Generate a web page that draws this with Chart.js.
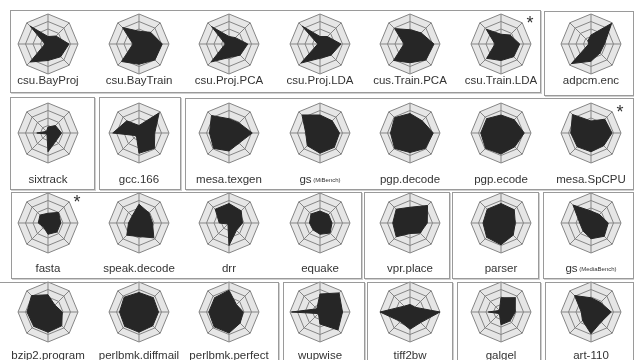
<!DOCTYPE html>
<html>
<head>
<meta charset="utf-8">
<script src="https://cdn.jsdelivr.net/npm/chart.js@4/dist/chart.umd.min.js"></script>
<style>
  html, body { margin: 0; padding: 0; background: #fff; }
  body { position: relative; width: 634px; height: 360px; overflow: hidden;
         font-family: "Liberation Sans", Arial, Helvetica, sans-serif; }
  .box { position: absolute; box-sizing: border-box; border: 1px solid #9a9a9a;
         box-shadow: 1px 1px 0 #d0d0d0; }
  .cell { position: absolute; }
  .lbl { position: absolute; width: 100px; text-align: center; font-size: 11.5px;
         line-height: 14px; color: #333; white-space: nowrap; }
  .lbl .sub { font-size: 6px; vertical-align: 1px; }
  .star { position: absolute; width: 14px; text-align: center; font-size: 18px;
          line-height: 18px; color: #333; }
</style>
</head>
<body>
<script>
// Eight metrics per benchmark, clockwise from the top spoke.
const axes = ['m1', 'm2', 'm3', 'm4', 'm5', 'm6', 'm7', 'm8'];

// Benchmark names, row by row (7 per row).
const benchmarks = [
  'csu.BayProj', 'csu.BayTrain', 'csu.Proj.PCA', 'csu.Proj.LDA', 'cus.Train.PCA', 'csu.Train.LDA', 'adpcm.enc',
  'sixtrack', 'gcc.166', 'mesa.texgen', 'gs|(MiBench)', 'pgp.decode', 'pgp.ecode', 'mesa.SpCPU',
  'fasta', 'speak.decode', 'drr', 'equake', 'vpr.place', 'parser', 'gs|(MediaBench)',
  'bzip2.program', 'perlbmk.diffmail', 'perlbmk.perfect', 'wupwise', 'tiff2bw', 'galgel', 'art-110'
];

// Benchmarks marked with an asterisk.
const starred = ['csu.Train.LDA', 'mesa.SpCPU', 'fasta'];

// Metric values (scale 0-4).
const csuBayProj      = [1.0, 1.5, 2.8, 2.4, 2.2, 3.4, 0.4, 3.4];
const csuBayTrain     = [1.7, 2.2, 3.1, 3.0, 2.7, 3.3, 0.8, 3.1];
const csuProjPCA      = [1.0, 1.2, 2.5, 2.1, 1.8, 3.4, 0.5, 3.3];
const csuProjLDA      = [1.0, 1.4, 2.8, 2.1, 1.9, 3.6, 0.3, 3.4];
const cusTrainPCA     = [1.9, 2.1, 3.2, 3.0, 2.5, 3.1, 0.8, 2.9];
const csuTrainLDA     = [1.3, 1.7, 2.5, 2.4, 2.2, 2.7, 0.8, 2.8];
const adpcmEnc        = [1.2, 3.9, 1.8, 1.7, 2.3, 3.7, 0.3, 0.6];
const sixtrack        = [0.8, 1.4, 1.8, 1.5, 2.5, 0.2, 1.5, 0.3];
const gcc166          = [1.0, 3.8, 2.1, 2.9, 2.7, 0.5, 3.5, 2.3];
const mesaTexgen      = [1.9, 1.9, 3.1, 1.9, 2.4, 2.9, 2.6, 3.3];
const gsMiBench       = [2.4, 2.3, 2.6, 2.7, 2.7, 2.4, 1.9, 3.4];
const pgpDecode       = [2.6, 2.3, 3.1, 2.9, 2.6, 2.9, 2.6, 2.9];
const pgpEcode        = [2.4, 2.5, 3.1, 2.6, 2.8, 2.9, 2.7, 2.7];
const mesaSpCPU       = [1.6, 2.6, 2.8, 2.4, 2.5, 2.6, 2.7, 3.5];
const fasta           = [1.3, 2.0, 1.7, 1.7, 1.5, 0.8, 1.3, 1.5];
const speakDecode     = [2.5, 1.9, 1.8, 2.8, 1.8, 2.3, 1.4, 1.3];
const drr             = [2.6, 2.3, 1.8, 1.4, 3.0, 0.2, 1.3, 2.6];
const equake          = [1.6, 1.6, 1.6, 1.9, 1.5, 1.3, 1.4, 1.7];
const vprPlace        = [2.1, 3.3, 2.3, 1.9, 1.4, 2.6, 2.3, 2.6];
const parser          = [2.6, 2.5, 1.9, 2.3, 2.9, 2.7, 2.4, 2.6];
const gsMediaBench    = [1.6, 1.6, 2.3, 2.5, 2.1, 1.5, 1.5, 3.4];
const bzip2Program    = [2.3, 1.3, 1.9, 2.6, 2.7, 2.7, 2.8, 3.1];
const perlbmkDiffmail = [2.6, 2.7, 2.6, 2.6, 2.7, 2.7, 2.6, 2.8];
const perlbmkPerfect  = [2.9, 1.4, 1.9, 2.1, 2.8, 2.8, 2.7, 2.7];
const wupwise         = [2.4, 3.6, 3.0, 3.4, 1.6, 0.3, 3.8, 0.6];
const tiff2bw         = [1.0, 0.9, 4.0, 2.0, 2.3, 1.8, 4.0, 1.1];
const galgel          = [1.9, 2.7, 1.9, 1.7, 1.7, 0.3, 1.7, 0.3];
const art110          = [1.9, 1.8, 2.7, 1.9, 2.9, 1.6, 1.3, 3.1];

const series = [
  csuBayProj, csuBayTrain, csuProjPCA, csuProjLDA, cusTrainPCA, csuTrainLDA, adpcmEnc,
  sixtrack, gcc166, mesaTexgen, gsMiBench, pgpDecode, pgpEcode, mesaSpCPU,
  fasta, speakDecode, drr, equake, vprPlace, parser, gsMediaBench,
  bzip2Program, perlbmkDiffmail, perlbmkPerfect, wupwise, tiff2bw, galgel, art110
];

// ---- layout ----
const COLS = 7;
const colX = c => Math.round(48 + 90.5 * c);
const rowY = [44, 133, 223, 312];
const labelY = [80, 179, 268, 355];
const SIZE = 62;

// grouping frames: [left, top, right, bottom]
const frames = [
  [10, 10, 541, 93], [544, 11, 634, 96],
  [10, 97, 95, 190], [99, 97, 181, 190], [185, 98, 634, 190],
  [11, 192, 362, 279], [364, 192, 450, 279], [452, 192, 539, 279], [543, 192, 634, 279],
  [-2, 282, 279, 362], [283, 282, 365, 362], [367, 282, 453, 362], [457, 282, 541, 362], [545, 282, 634, 362]
];

frames.forEach(([l, t, r, b]) => {
  const d = document.createElement('div');
  d.className = 'box';
  d.style.left = l + 'px';
  d.style.top = t + 'px';
  d.style.width = (r - l) + 'px';
  d.style.height = (b - t) + 'px';
  document.body.appendChild(d);
});

benchmarks.forEach((name, i) => {
  const c = i % COLS, r = Math.floor(i / COLS);
  const cx = colX(c), cy = rowY[r];

  const canvas = document.createElement('canvas');
  canvas.className = 'cell';
  canvas.width = SIZE;
  canvas.height = SIZE;
  canvas.style.left = (cx - SIZE / 2) + 'px';
  canvas.style.top = (cy - SIZE / 2) + 'px';
  document.body.appendChild(canvas);

  new Chart(canvas, {
    type: 'radar',
    data: {
      labels: axes,
      datasets: [{
        data: series[i],
        backgroundColor: '#262626',
        borderColor: '#262626',
        borderWidth: 1,
        pointRadius: 0,
        fill: true
      }]
    },
    options: {
      responsive: false,
      animation: false,
      events: [],
      layout: { padding: 1 },
      elements: { line: { tension: 0 } },
      plugins: { legend: { display: false }, tooltip: { enabled: false } },
      scales: {
        r: {
          min: 0,
          max: 4,
          backgroundColor: '#e6e6e6',
          ticks: { display: false, stepSize: 1 },
          pointLabels: { display: false },
          grid: { color: '#858585', lineWidth: 1 },
          angleLines: { color: '#858585', lineWidth: 1 }
        }
      }
    }
  });

  const lbl = document.createElement('div');
  lbl.className = 'lbl';
  lbl.style.left = (cx - 50) + 'px';
  lbl.style.top = (labelY[r] - 7) + 'px';
  const parts = name.split('|');
  lbl.textContent = parts[0];
  if (parts[1]) {
    const s = document.createElement('span');
    s.className = 'sub';
    s.textContent = ' ' + parts[1];
    lbl.appendChild(s);
  }
  document.body.appendChild(lbl);

  if (starred.includes(name)) {
    const st = document.createElement('div');
    st.className = 'star';
    st.textContent = '*';
    st.style.left = (cx + 22) + 'px';
    st.style.top = (cy - 30) + 'px';
    document.body.appendChild(st);
  }
});
</script>
</body>
</html>
